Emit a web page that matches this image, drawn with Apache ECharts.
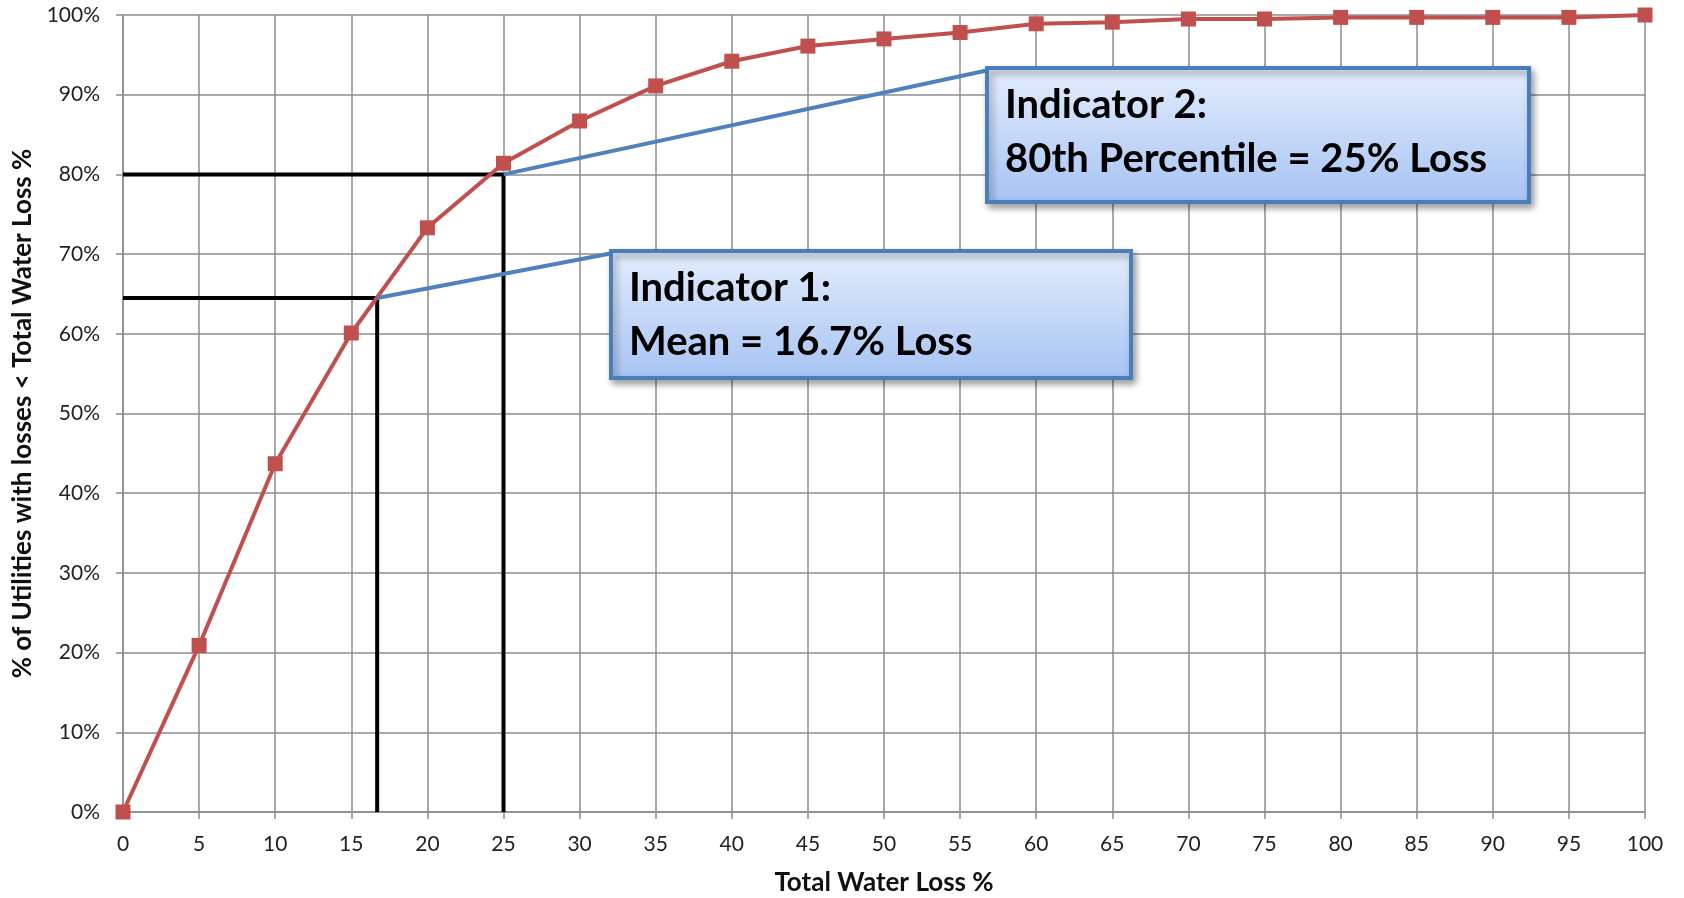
<!DOCTYPE html>
<html><head><meta charset="utf-8">
<script src="https://cdn.jsdelivr.net/npm/echarts@6/dist/echarts.min.js"></script>
<style>html,body{margin:0;padding:0;background:#fff}#c{width:1684px;height:898px}</style>
</head><body><div id="c"></div>
<script>
// ---- data ----
const lossPct = [0,5,10,15,20,25,30,35,40,45,50,55,60,65,70,75,80,85,90,95,100];
const cumPct  = [0,20.9,43.7,60.1,73.3,81.4,86.7,91.1,94.2,96.1,97.0,97.8,98.9,99.1,99.5,99.5,99.7,99.7,99.7,99.7,100];
const meanLoss = 16.7, meanCum = 64.5;
const p80Loss = 25, p80Cum = 80;
const callout1Lines = ['Indicator 1:', 'Mean = 16.7% Loss'];
const callout2Lines = ['Indicator 2:', '80th Percentile = 25% Loss'];
const xAxisTitle = 'Total Water Loss %';
const yAxisTitle = '% of Utilities with losses < Total Water Loss %';

const FONT = 'Lato, "Open Sans", sans-serif';
const chart = echarts.init(document.getElementById('c'), null, {renderer:'canvas'});

const gridColor = '#8c8c8c';
const option = {
  animation: false,
  backgroundColor: '#fff',
  grid: {left: 123, right: 39, top: 15, bottom: 86, containLabel: false, outerBoundsMode: 'none'},
  xAxis: {
    type: 'value', min: 0, max: 100, interval: 5,
    name: xAxisTitle, nameLocation: 'middle', nameGap: 58,
    nameTextStyle: {fontFamily: FONT, fontWeight: 'bold', fontSize: 26, color: '#111'},
    axisLine: {show: true, lineStyle: {color: gridColor, width: 1.5}},
    axisTick: {show: true, length: 7, lineStyle: {color: gridColor, width: 1.5}},
    axisLabel: {fontFamily: FONT, fontSize: 21, color: '#222', margin: 22},
    splitLine: {show: true, lineStyle: {color: gridColor, width: 1.5}}
  },
  yAxis: {
    type: 'value', min: 0, max: 100, interval: 10,
    name: yAxisTitle, nameLocation: 'middle', nameGap: 85, nameRotate: 90,
    nameTextStyle: {fontFamily: FONT, fontWeight: 'bold', fontSize: 26, color: '#111'},
    axisLine: {show: true, lineStyle: {color: gridColor, width: 1.5}},
    axisTick: {show: true, length: 7, lineStyle: {color: gridColor, width: 1.5}},
    axisLabel: {fontFamily: FONT, fontSize: 21, color: '#222', margin: 23, formatter: '{value}%'},
    splitLine: {show: true, lineStyle: {color: gridColor, width: 1.5}}
  },
  series: [
    {
      type: 'line', name: 'mean', z: 3, symbol: 'none', silent: true,
      lineStyle: {color: '#000', width: 4},
      data: [[0, meanCum], [meanLoss, meanCum], [meanLoss, 0]]
    },
    {
      type: 'line', name: 'p80', z: 3, symbol: 'none', silent: true,
      lineStyle: {color: '#000', width: 4},
      data: [[0, p80Cum], [p80Loss, p80Cum], [p80Loss, 0]]
    },
    {
      type: 'line', name: 'cumulative', z: 5,
      symbol: 'rect', symbolSize: 15,
      itemStyle: {color: '#C0504D'},
      lineStyle: {color: '#C0504D', width: 4},
      data: lossPct.map((x, i) => [x, cumPct[i]])
    }
  ]
};
chart.setOption(option);

function callout(box, lines, anchor) {
  const grad = new echarts.graphic.LinearGradient(0, 0, 0, 1, [
    {offset: 0, color: '#E4EDFC'}, {offset: 1, color: '#A6C3F3'}
  ]);
  return [
    {
      type: 'line', z: 20, silent: true,
      shape: {x1: anchor[0], y1: anchor[1], x2: box.x + 2, y2: box.y + 2},
      style: {stroke: '#4F81BD', lineWidth: 4}
    },
    {
      type: 'rect', z: 30, silent: true,
      shape: {x: box.x, y: box.y, width: box.w, height: box.h},
      style: {fill: grad, stroke: '#4A7EBB', lineWidth: 4,
              shadowBlur: 7, shadowOffsetX: 3, shadowOffsetY: 4, shadowColor: 'rgba(0,0,0,0.35)'}
    },
    {
      type: 'text', z: 31, silent: true,
      x: box.x + 18, y: box.y + 10,
      style: {text: lines.join('\n'), fontFamily: FONT, fontWeight: 'bold', fontSize: 40,
              lineHeight: 54, fill: '#000', textVerticalAlign: 'top'}
    }
  ];
}

const a1 = chart.convertToPixel({gridIndex: 0}, [meanLoss, meanCum]);
const a2 = chart.convertToPixel({gridIndex: 0}, [p80Loss, p80Cum]);
chart.setOption({
  graphic: [].concat(
    callout({x: 611, y: 251, w: 520, h: 127}, callout1Lines, a1),
    callout({x: 987, y: 68, w: 542, h: 134}, callout2Lines, a2)
  )
});
</script></body></html>
